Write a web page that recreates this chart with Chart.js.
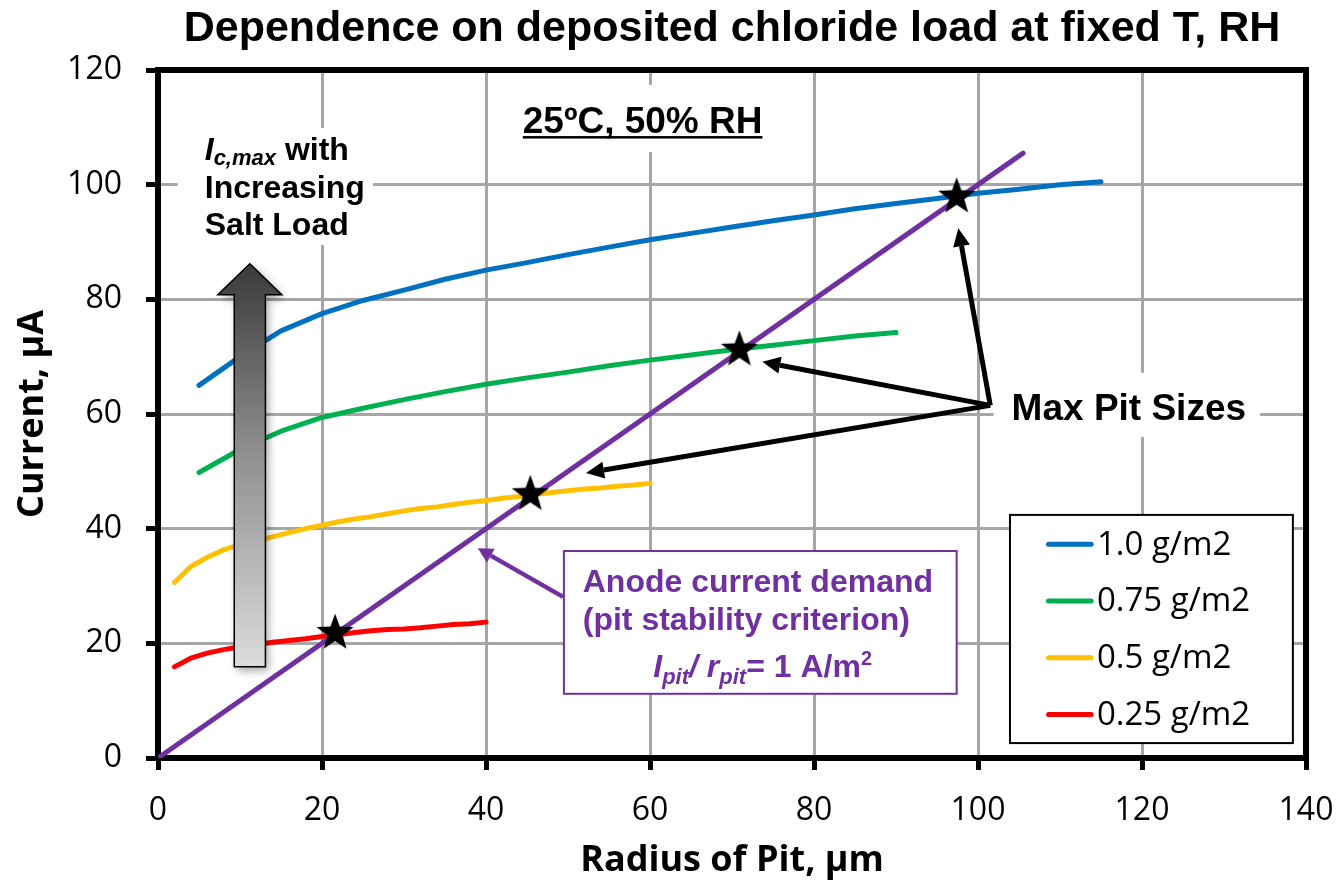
<!DOCTYPE html>
<html>
<head>
<meta charset="utf-8">
<script src="https://cdn.jsdelivr.net/npm/chart.js@4/dist/chart.umd.min.js"></script>
<style>
  html, body { margin: 0; padding: 0; background: #fff; }
</style>
</head>
<body>
<canvas id="pitChart" width="1339" height="880"></canvas>
<script>
// --- Data ---
const radius10 = [5, 10, 15, 20, 25, 30, 35, 40, 45, 50, 55, 60, 65, 70, 75, 80, 85, 90, 95, 100, 105, 110, 115];
const current10 = [65.0, 70.0, 74.5, 77.5, 79.8, 81.6, 83.5, 85.1, 86.4, 87.8, 89.1, 90.4, 91.5, 92.6, 93.7, 94.7, 95.8, 96.7, 97.6, 98.5, 99.2, 100.0, 100.5];

const radius075 = [5, 10, 15, 20, 25, 30, 35, 40, 45, 50, 55, 60, 65, 70, 75, 80, 85, 90];
const current075 = [49.8, 53.8, 57.0, 59.4, 61.0, 62.5, 63.9, 65.2, 66.3, 67.3, 68.4, 69.4, 70.3, 71.2, 72.0, 72.8, 73.6, 74.2];

const radius05 = [2, 4, 6, 8, 10, 12, 14, 16, 18, 20, 22, 24, 26, 28, 30, 32, 34, 36, 38, 40, 42, 44, 46, 48, 50, 52, 54, 56, 58, 60];
const current05 = [30.6, 33.4, 35.0, 36.3, 37.2, 37.8, 38.6, 39.3, 40.0, 40.6, 41.2, 41.7, 42.1, 42.6, 43.1, 43.5, 43.8, 44.2, 44.6, 44.9, 45.3, 45.6, 46.0, 46.3, 46.6, 46.9, 47.1, 47.4, 47.6, 47.9];

const radius025 = [2, 4, 6, 8, 10, 12, 14, 16, 18, 20, 22, 24, 26, 28, 30, 32, 34, 36, 38, 40];
const current025 = [15.9, 17.4, 18.3, 18.9, 19.4, 19.8, 20.2, 20.5, 20.8, 21.2, 21.5, 21.9, 22.2, 22.4, 22.5, 22.7, 23.0, 23.3, 23.4, 23.7];

// anode current demand, I/r = 1 A/m2
const demandRadius = [0, 105.5];
const demandCurrent = [0, 105.5];

// max pit sizes (intersections)
const starRadius = [21.6, 45.4, 70.9, 97.4];
const starCurrent = [21.8, 46.0, 71.2, 97.9];

const seriesLabels = ['1.0 g/m2', '0.75 g/m2', '0.5 g/m2', '0.25 g/m2'];
const seriesColors = ['#0070c0', '#00b050', '#ffc000', '#ff0000'];
const demandColor = '#7030a0';

const xTicks = [0, 20, 40, 60, 80, 100, 120, 140];
const yTicks = [0, 20, 40, 60, 80, 100, 120];

const AR = "'Liberation Sans', Arial, sans-serif";
const CAL = "'Open Sans', 'Noto Sans', sans-serif";

const toPts = (xs, ys) => xs.map((x, i) => ({ x, y: ys[i] }));

// filled five point star used as the marker
const starImg = document.createElement('canvas');
starImg.width = 44; starImg.height = 44;
(() => {
    const c = starImg.getContext('2d');
    const R = 19.5, r = 8;
    c.beginPath();
    for (let i = 0; i < 10; i++) {
        const rad = i % 2 ? r : R;
        const ang = -Math.PI / 2 + i * Math.PI / 5;
        const px = 22 + rad * Math.cos(ang), py = 22 + rad * Math.sin(ang);
        i ? c.lineTo(px, py) : c.moveTo(px, py);
    }
    c.closePath();
    c.fillStyle = '#000';
    c.fill();
})();

function arrow(ctx, x1, y1, x2, y2, color, w, len, wid) {
    const ang = Math.atan2(y2 - y1, x2 - x1);
    const bx = x2 - len * Math.cos(ang), by = y2 - len * Math.sin(ang);
    ctx.strokeStyle = color;
    ctx.lineWidth = w;
    ctx.beginPath(); ctx.moveTo(x1, y1); ctx.lineTo(bx, by); ctx.stroke();
    ctx.fillStyle = color;
    ctx.beginPath();
    ctx.moveTo(x2, y2);
    ctx.lineTo(bx + wid / 2 * Math.sin(ang), by - wid / 2 * Math.cos(ang));
    ctx.lineTo(bx - wid / 2 * Math.sin(ang), by + wid / 2 * Math.cos(ang));
    ctx.closePath(); ctx.fill();
}

function runs(ctx, x, y, parts) {
    let cx = x;
    parts.forEach(p => {
        ctx.font = p.font;
        ctx.fillText(p.t, cx, y + (p.dy || 0));
        cx += ctx.measureText(p.t).width;
    });
    return cx;
}

const overlay = {
    id: 'overlay',
    beforeDatasetsDraw(chart) {
        const { ctx, chartArea: a } = chart;
        ctx.save();
        ctx.strokeStyle = '#000';
        ctx.lineWidth = 6;
        ctx.strokeRect(a.left, a.top, a.right - a.left, a.bottom - a.top);
        ctx.restore();
    },
    afterDatasetsDraw(chart) {
        const { ctx, chartArea: a } = chart;
        const X = v => chart.scales.x.getPixelForValue(v);
        const Y = v => chart.scales.y.getPixelForValue(v);
        const whiteBox = (x1, y1, x2, y2) => {
            ctx.fillStyle = '#fff';
            ctx.fillRect(X(x1), Y(y1), X(x2) - X(x1), Y(y2) - Y(y1));
        };
        ctx.save();
        ctx.textBaseline = 'alphabetic';

        // title
        ctx.fillStyle = '#000';
        ctx.font = `bold 43px ${AR}`;
        ctx.textAlign = 'center';
        ctx.fillText('Dependence on deposited chloride load at fixed T, RH', (a.left + a.right) / 2, 41);

        // condition label
        whiteBox(43.0, 117.4, 75.2, 105.7);
        ctx.font = `bold 37px ${AR}`;
        ctx.fillStyle = '#000';
        const cond = '25ºC, 50% RH';
        ctx.fillText(cond, X(59.1), Y(109.0));
        const cw = ctx.measureText(cond).width;
        ctx.fillRect(X(59.1) - cw / 2, Y(109.0) + 3, cw, 2.5);

        // salt-load label
        ctx.textAlign = 'left';
        whiteBox(2.4, 109.9, 26.2, 89.5);
        ctx.fillStyle = '#000';
        runs(ctx, X(5.7), Y(104.3), [
            { t: 'I', font: `italic bold 32px ${AR}` },
            { t: 'c,max', font: `italic bold 22px ${AR}`, dy: 5 },
            { t: ' with', font: `bold 32px ${AR}` }
        ]);
        ctx.font = `bold 32px ${AR}`;
        ctx.fillText('Increasing', X(5.7), Y(97.7));
        ctx.fillText('Salt Load', X(5.7), Y(91.2));

        // gray gradient arrow
        const gx = [7.3, 9.3, 11.2, 13.1, 15.1];
        const gTop = 86.2, gNeck = 80.8, gBot = 15.9;
        const path = () => {
            ctx.beginPath();
            ctx.moveTo(X(gx[1]), Y(gNeck));
            ctx.lineTo(X(gx[0]), Y(gNeck));
            ctx.lineTo(X(gx[2]), Y(gTop));
            ctx.lineTo(X(gx[4]), Y(gNeck));
            ctx.lineTo(X(gx[3]), Y(gNeck));
            ctx.lineTo(X(gx[3]), Y(gBot));
            ctx.lineTo(X(gx[1]), Y(gBot));
            ctx.closePath();
        };
        const grad = ctx.createLinearGradient(0, Y(gTop), 0, Y(gBot));
        grad.addColorStop(0, '#3a3a3a');
        grad.addColorStop(0.45, '#8c8c8c');
        grad.addColorStop(1, '#dcdcdc');
        ctx.save();
        ctx.shadowColor = 'rgba(0,0,0,0.35)';
        ctx.shadowBlur = 8; ctx.shadowOffsetX = 3; ctx.shadowOffsetY = 4;
        path(); ctx.fillStyle = grad; ctx.fill();
        ctx.restore();
        path(); ctx.strokeStyle = '#000'; ctx.lineWidth = 1.5; ctx.stroke();

        // max pit size arrows
        const J = [101.5, 61.5];
        const tips = [[97.6, 92.4], [73.7, 69.1], [52.2, 49.7]];
        ctx.lineJoin = 'miter';
        tips.forEach(t => arrow(ctx, X(J[0]), Y(J[1]), X(t[0]), Y(t[1]), '#000', 5, 18, 17));
        whiteBox(101.9, 67.2, 134.4, 56.0);
        ctx.fillStyle = '#000';
        ctx.font = `bold 37px ${AR}`;
        ctx.fillText('Max Pit Sizes', X(104.1), Y(59.0));

        // anode demand callout
        arrow(ctx, X(49.4), Y(28.1), X(39.0), Y(36.6), demandColor, 4.5, 15, 16);
        whiteBox(49.5, 36.1, 97.4, 11.2);
        ctx.strokeStyle = demandColor;
        ctx.lineWidth = 2;
        ctx.strokeRect(X(49.5), Y(36.1), X(97.4) - X(49.5), Y(11.2) - Y(36.1));
        ctx.fillStyle = demandColor;
        ctx.font = `bold 32px ${AR}`;
        ctx.fillText('Anode current demand', X(51.8), Y(28.9));
        ctx.fillText('(pit stability criterion)', X(51.8), Y(22.3));
        runs(ctx, X(60.4), Y(14.1), [
            { t: 'I', font: `italic bold 32px ${AR}` },
            { t: 'pit', font: `italic bold 22px ${AR}`, dy: 7 },
            { t: '/ r', font: `italic bold 32px ${AR}` },
            { t: 'pit', font: `italic bold 22px ${AR}`, dy: 7 },
            { t: '= 1 A/m', font: `bold 32px ${AR}` },
            { t: '2', font: `bold 20px ${AR}`, dy: -12 }
        ]);

        // legend
        const L = { x1: 103.9, x2: 138.4, y1: 42.4, y2: 2.6 };
        ctx.fillStyle = '#fff';
        ctx.fillRect(X(L.x1), Y(L.y1), X(L.x2) - X(L.x1), Y(L.y2) - Y(L.y1));
        ctx.strokeStyle = '#000';
        ctx.lineWidth = 2;
        ctx.strokeRect(X(L.x1), Y(L.y1), X(L.x2) - X(L.x1), Y(L.y2) - Y(L.y1));
        const rowY = [37.3, 27.4, 17.5, 7.6];
        ctx.font = `33px ${CAL}`;
        ctx.textBaseline = 'middle';
        ctx.lineCap = 'round';
        seriesLabels.forEach((lab, i) => {
            const yy = Y(rowY[i]);
            ctx.strokeStyle = seriesColors[i];
            ctx.lineWidth = 5;
            ctx.beginPath(); ctx.moveTo(X(108.6), yy); ctx.lineTo(X(113.8), yy); ctx.stroke();
            ctx.fillStyle = '#000';
            ctx.fillText(lab, X(114.5), yy + 1);
        });
        ctx.restore();
    }
};

const lineSet = (label, xs, ys, color) => ({
    label,
    data: toPts(xs, ys),
    showLine: true,
    borderColor: color,
    backgroundColor: color,
    borderWidth: 5,
    borderCapStyle: 'round',
    borderJoinStyle: 'round',
    pointRadius: 0,
    tension: 0
});

new Chart(document.getElementById('pitChart'), {
    type: 'scatter',
    data: {
        datasets: [
            {
                label: 'Max pit size',
                data: toPts(starRadius, starCurrent),
                showLine: false,
                pointStyle: starImg,
                pointRadius: 18,
                clip: false
            },
            lineSet('Anode current demand', demandRadius, demandCurrent, demandColor),
            lineSet(seriesLabels[0], radius10, current10, seriesColors[0]),
            lineSet(seriesLabels[1], radius075, current075, seriesColors[1]),
            lineSet(seriesLabels[2], radius05, current05, seriesColors[2]),
            lineSet(seriesLabels[3], radius025, current025, seriesColors[3])
        ]
    },
    options: {
        responsive: false,
        devicePixelRatio: 1,
        animation: false,
        events: [],
        layout: { padding: { top: 70, right: 33, left: 0, bottom: 0 } },
        plugins: {
            legend: { display: false },
            tooltip: { enabled: false }
        },
        scales: {
            x: {
                type: 'linear',
                min: 0, max: 140,
                afterFit: s => { s.height = 122; s.paddingLeft = 0; s.paddingRight = 0; },
                afterBuildTicks: s => { s.ticks = xTicks.map(v => ({ value: v })); },
                grid: { color: '#a6a6a6', lineWidth: 3, tickColor: '#000', tickWidth: 5, tickLength: 12 },
                border: { display: false },
                ticks: { color: '#000', font: { family: CAL, size: 32 }, padding: 22, maxRotation: 0 },
                title: {
                    display: true, text: 'Radius of Pit, µm', color: '#000',
                    font: { family: CAL, size: 36, weight: 'bold', lineHeight: 1 },
                    padding: { top: 0, bottom: 1 }
                }
            },
            y: {
                type: 'linear',
                min: 0, max: 120,
                afterFit: s => { s.width = 158; s.paddingTop = 0; s.paddingBottom = 0; },
                afterBuildTicks: s => { s.ticks = yTicks.map(v => ({ value: v })); },
                grid: { color: '#a6a6a6', lineWidth: 3, tickColor: '#000', tickWidth: 5, tickLength: 12 },
                border: { display: false },
                ticks: { color: '#000', font: { family: CAL, size: 32 }, padding: 24 },
                title: {
                    display: true, text: 'Current, µA', color: '#000',
                    font: { family: CAL, size: 36, weight: 'bold', lineHeight: 1 },
                    padding: { top: 15, bottom: 0 }
                }
            }
        }
    },
    plugins: [overlay]
});
</script>
</body>
</html>
